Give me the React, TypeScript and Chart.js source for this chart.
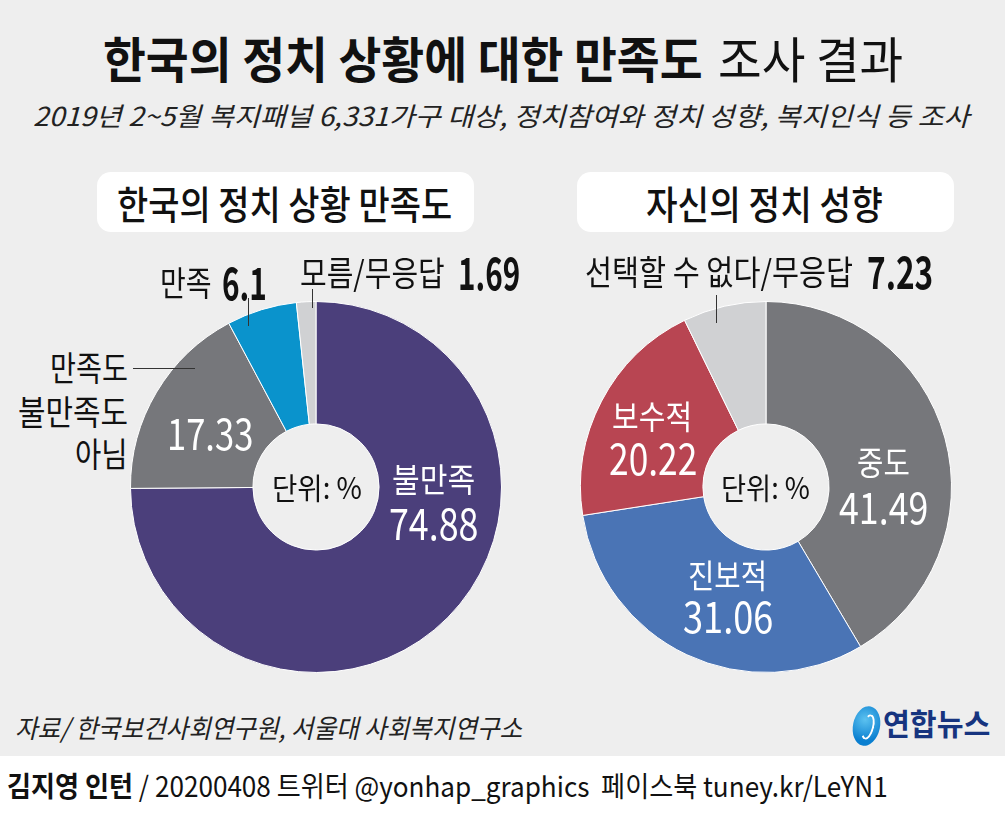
import React, { useEffect, useLayoutEffect, useRef, useState } from "react";
import { Chart, registerables } from "chart.js";

Chart.register(...registerables);

// ---- data ----
const satisfactionLabels = ["불만족", "만족도 불만족도 아님", "만족", "모름/무응답"];
const satisfactionValues = [74.88, 17.33, 6.1, 1.69];
const satisfactionColors = ["#4b3f7b", "#76777b", "#0a93cc", "#d0d1d3"];

const orientationLabels = ["중도", "진보적", "보수적", "선택할 수 없다/무응답"];
const orientationValues = [41.49, 31.06, 20.22, 7.23];
const orientationColors = ["#76777b", "#4a74b5", "#b84552", "#d0d1d3"];

const titleBold = "한국의 정치 상황에 대한 만족도";
const titleRegular = "조사 결과";
const subtitle = "2019년 2~5월 복지패널 6,331가구 대상, 정치참여와 정치 성향, 복지인식 등 조사";
const leftHeader = "한국의 정치 상황 만족도";
const rightHeader = "자신의 정치 성향";
const unitText = "단위: %";
const sourceText = "자료/ 한국보건사회연구원, 서울대 사회복지연구소";
const creditBold = "김지영 인턴";
const creditRest = " / 20200408 트위터 @yonhap_graphics  페이스북 tuney.kr/LeYN1";

const FONT = "'Noto Sans CJK KR', 'Noto Sans', sans-serif";

type FitProps = {
  x1: number;
  x2: number;
  y: number;
  size: number;
  weight?: number;
  color?: string;
  italic?: boolean;
  children: React.ReactNode;
};

function Fit({ x1, x2, y, size, weight = 400, color = "#111", italic = false, children }: FitProps) {
  const ref = useRef<HTMLSpanElement>(null);
  const [s, setS] = useState(1);
  useLayoutEffect(() => {
    if (ref.current) {
      const w = ref.current.offsetWidth;
      if (w > 0) setS((x2 - x1) / w);
    }
  }, [x1, x2]);
  return (
    <span
      ref={ref}
      style={{
        position: "absolute",
        left: x1,
        top: y,
        whiteSpace: "pre",
        fontSize: size,
        fontWeight: weight,
        color,
        fontStyle: italic ? "italic" : "normal",
        lineHeight: 1,
        fontFamily: FONT,
        transformOrigin: "left center",
        transform: `translateY(-53%) scaleX(${s})`,
      }}
    >
      {children}
    </span>
  );
}

function Donut({
  labels,
  values,
  colors,
  cx,
  cy,
  r,
}: {
  labels: string[];
  values: number[];
  colors: string[];
  cx: number;
  cy: number;
  r: number;
}) {
  const ref = useRef<HTMLCanvasElement>(null);
  const size = r * 2 + 2;
  useEffect(() => {
    const chart = new Chart(ref.current as HTMLCanvasElement, {
      type: "doughnut",
      data: {
        labels,
        datasets: [
          {
            data: values,
            backgroundColor: colors,
            borderColor: "#ffffff",
            borderWidth: 1,
          },
        ],
      },
      options: {
        animation: false,
        responsive: false,
        cutout: "34%",
        events: [],
        layout: { padding: 0 },
        plugins: { legend: { display: false }, tooltip: { enabled: false } },
      },
    });
    return () => chart.destroy();
  }, []);
  return (
    <canvas
      ref={ref}
      width={size}
      height={size}
      style={{ position: "absolute", left: cx - size / 2, top: cy - size / 2, width: size, height: size }}
    />
  );
}

function VLine({ x, y1, y2 }: { x: number; y1: number; y2: number }) {
  return <div style={{ position: "absolute", left: x, top: y1, width: 1, height: y2 - y1, background: "#333" }} />;
}
function HLine({ y, x1, x2 }: { y: number; x1: number; x2: number }) {
  return <div style={{ position: "absolute", left: x1, top: y, width: x2 - x1, height: 1, background: "#333" }} />;
}

export default function App() {
  const W = "#ffffff";
  return (
    <div
      style={{
        position: "fixed",
        left: 0,
        top: 0,
        width: 1005,
        height: 813,
        background: "#ffffff",
        overflow: "hidden",
        fontFamily: FONT,
      }}
    >
      <div style={{ position: "absolute", left: 0, top: 0, width: 1005, height: 756, background: "#eeeeee" }} />

      {/* Title */}
      <Fit x1={103} x2={703} y={58} size={49} weight={700} color="#111">
        {titleBold}
      </Fit>
      <Fit x1={718} x2={903} y={58} size={49} weight={400} color="#111">
        {titleRegular}
      </Fit>
      <Fit x1={33} x2={970} y={116} size={26} weight={400} color="#222" italic>
        {subtitle}
      </Fit>

      {/* Header boxes */}
      <div style={{ position: "absolute", left: 97, top: 172, width: 377, height: 60, background: "#fff", borderRadius: 14 }} />
      <div style={{ position: "absolute", left: 577, top: 172, width: 377, height: 60, background: "#fff", borderRadius: 14 }} />
      <Fit x1={117} x2={452} y={204} size={39} weight={500} color="#111">
        {leftHeader}
      </Fit>
      <Fit x1={646} x2={883} y={204} size={39} weight={500} color="#111">
        {rightHeader}
      </Fit>

      {/* Donuts */}
      <Donut labels={satisfactionLabels} values={satisfactionValues} colors={satisfactionColors} cx={316} cy={487} r={185} />
      <Donut labels={orientationLabels} values={orientationValues} colors={orientationColors} cx={766} cy={487} r={185} />

      {/* Left leaders */}
      <VLine x={248} y1={298} y2={326} />
      <VLine x={312} y1={289} y2={308} />
      <HLine y={368} x1={133} x2={195} />
      {/* Right leader */}
      <VLine x={716} y1={295} y2={323} />

      {/* Left chart labels */}
      <Fit x1={160} x2={212} y={283} size={34} color="#111">
        {satisfactionLabels[2]}
      </Fit>
      <Fit x1={222} x2={267} y={282} size={45} weight={700} color="#111">
        {String(satisfactionValues[2])}
      </Fit>
      <Fit x1={300} x2={445} y={273} size={34} color="#111">
        {satisfactionLabels[3]}
      </Fit>
      <Fit x1={458} x2={520} y={272} size={45} weight={700} color="#111">
        {String(satisfactionValues[3])}
      </Fit>
      <Fit x1={50} x2={128} y={368} size={34} color="#111">
        만족도
      </Fit>
      <Fit x1={18} x2={128} y={412} size={34} color="#111">
        불만족도
      </Fit>
      <Fit x1={75} x2={128} y={454} size={34} color="#111">
        아님
      </Fit>
      <Fit x1={167} x2={253} y={433} size={43} color={W}>
        {String(satisfactionValues[1])}
      </Fit>
      <Fit x1={392} x2={475} y={479} size={33} color={W}>
        {satisfactionLabels[0]}
      </Fit>
      <Fit x1={389} x2={478} y={523} size={43} color={W}>
        {String(satisfactionValues[0])}
      </Fit>
      <Fit x1={272} x2={362} y={487} size={30} color="#111">
        {unitText}
      </Fit>

      {/* Right chart labels */}
      <Fit x1={585} x2={853} y={272} size={34} color="#111">
        {orientationLabels[3]}
      </Fit>
      <Fit x1={867} x2={933} y={271} size={45} weight={700} color="#111">
        {String(orientationValues[3])}
      </Fit>
      <Fit x1={612} x2={692} y={416} size={33} color={W}>
        {orientationLabels[2]}
      </Fit>
      <Fit x1={609} x2={697} y={458} size={43} color={W}>
        {String(orientationValues[2])}
      </Fit>
      <Fit x1={857} x2={910} y={462} size={33} color={W}>
        {orientationLabels[0]}
      </Fit>
      <Fit x1={839} x2={928} y={507} size={43} color={W}>
        {String(orientationValues[0])}
      </Fit>
      <Fit x1={688} x2={767} y={575} size={33} color={W}>
        {orientationLabels[1]}
      </Fit>
      <Fit x1={683} x2={773} y={616} size={43} color={W}>
        {String(orientationValues[1])}
      </Fit>
      <Fit x1={721} x2={810} y={487} size={30} color="#111">
        {unitText}
      </Fit>

      {/* Source */}
      <Fit x1={15} x2={522} y={728} size={26} color="#222" italic>
        {sourceText}
      </Fit>

      {/* Logo */}
      <div
        style={{
          position: "absolute",
          left: 853,
          top: 706,
          width: 27,
          height: 40,
          borderRadius: "50%",
          background: "radial-gradient(circle at 40% 35%, #5cc2f0, #0a7fd0 70%)",
          transform: "rotate(12deg)",
        }}
      />
      <div
        style={{
          position: "absolute",
          left: 862,
          top: 714,
          width: 8,
          height: 22,
          borderRadius: "50%",
          border: "2px solid #ffffff",
          borderLeftColor: "transparent",
          transform: "rotate(15deg)",
        }}
      />
      <Fit x1={883} x2={990} y={723} size={30} weight={700} color="#16347f">
        연합뉴스
      </Fit>

      {/* Credit line */}
      <Fit x1={7} x2={888} y={786} size={28} color="#111">
        <span style={{ fontWeight: 700 }}>{creditBold}</span>
        <span>{creditRest}</span>
      </Fit>
    </div>
  );
}
